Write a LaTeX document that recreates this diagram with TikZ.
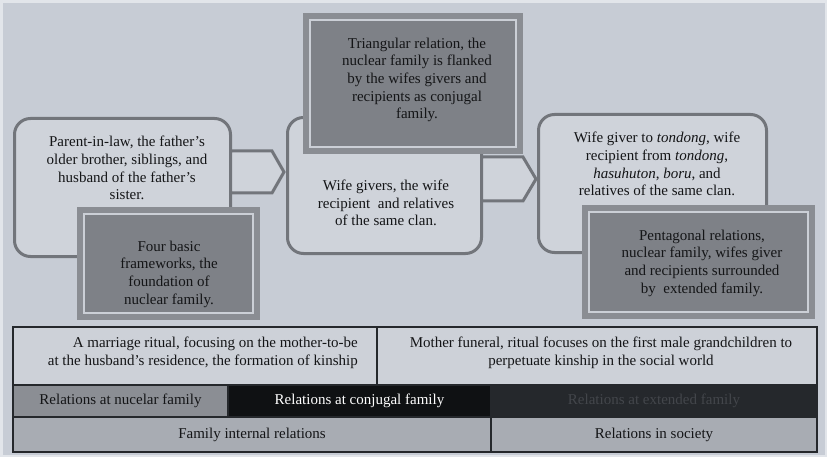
\documentclass[tikz,border=0pt]{standalone}
\usepackage{fontspec}
\setmainfont{Liberation Serif}
\newfontfamily\seriffont{Liberation Serif}
\usetikzlibrary{calc}
\definecolor{pagebg}{HTML}{C7CCD5}
\definecolor{pageedge}{HTML}{E2E5EA}
\definecolor{rfill}{HTML}{CFD3DA}
\definecolor{rborder}{HTML}{72757B}
\definecolor{dband}{HTML}{8A8D93}
\definecolor{dfill}{HTML}{7E8187}
\definecolor{dline}{HTML}{CBCFD6}
\definecolor{txtc}{HTML}{141517}
\definecolor{tborder}{HTML}{25282C}
\definecolor{rowA}{HTML}{CDD1D8}
\definecolor{rowBa}{HTML}{8B8E94}
\definecolor{rowBb}{HTML}{0F1113}
\definecolor{rowBc}{HTML}{25282C}
\definecolor{rowBctext}{HTML}{43464B}
\definecolor{rowC}{HTML}{A8ACB3}
\begin{document}
\begin{tikzpicture}[x=1pt,y=-1pt,
  txt/.style={font=\seriffont\fontsize{15}{17.7}\selectfont, align=center, text=txtc, inner sep=0pt},
  rbox/.style={draw=rborder, line width=3pt, fill=rfill, rounded corners=16pt, outer sep=0pt, inner sep=0pt},
  dbox/.style={draw=dband, line width=6pt, fill=dfill, outer sep=0pt, inner sep=0pt},
  dinner/.style={draw=dline, line width=1.8pt},
  chev/.style={draw=rborder, line width=3pt, fill=rfill, line join=miter},
  cell/.style={draw=tborder, line width=2pt, outer sep=0pt, inner sep=0pt, anchor=north west,
    font=\seriffont\fontsize{15}{17.7}\selectfont, text=txtc}]
\useasboundingbox (0,0) rectangle (827,457);
\fill[pageedge] (0,0) rectangle (827,457);
\fill[pagebg] (3,3) rectangle (825,455);

% rounded boxes
\node[rbox, minimum width=216, minimum height=138] (L) at (122.5,187.5) {};
\node[rbox, minimum width=194, minimum height=136] (M) at (384.5,185.5) {};
\node[rbox, minimum width=228, minimum height=138] (R) at (652.5,183.5) {};

% chevron connectors
\coordinate (c1a) at ([yshift=15.5pt]L.east);
\coordinate (c1b) at ([xshift=-3.5pt,yshift=13.5pt]M.west);
\draw[chev] let \p1=(c1a), \p2=(c1b) in
  (\x1,\y1+21pt) -- (\x2-12pt,\y1+21pt) -- (\x2,\y1) -- (\x2-12pt,\y1-21pt) -- (\x1,\y1-21pt) -- cycle;
\coordinate (c2a) at ([yshift=6.5pt]M.east);
\coordinate (c2b) at ([xshift=-2.5pt,yshift=4.5pt]R.west);
\draw[chev] let \p1=(c2a), \p2=(c2b) in
  (\x1,\y1+22pt) -- (\x2-13pt,\y1+22pt) -- (\x2,\y1) -- (\x2-13pt,\y1-22pt) -- (\x1,\y1-22pt) -- cycle;

% dark boxes
\node[dbox, minimum width=177, minimum height=107] (D1) at (168.5,263.5) {};
\node[dbox, minimum width=214, minimum height=135] (D2) at (413,83.5) {};
\node[dbox, minimum width=227, minimum height=108] (D3) at (698.5,262) {};
\foreach \d in {D1,D2,D3}
  \draw[dinner] ([shift={(4pt,-4pt)}]\d.north west) rectangle ([shift={(-4pt,4pt)}]\d.south east);

% texts
\node[txt] (tL) at (127,168) {Parent-in-law, the father’s\\older brother, siblings, and\\husband of the father’s\\sister.};
\node[txt] (tD1) at (169,274) {Four basic\\frameworks, the\\foundation of\\nuclear family.};
\node[txt] (tD2) at (417,80) {Triangular relation, the\\nuclear family is flanked\\by the wifes givers and\\recipients as conjugal\\family.};
\node[txt] (tM) at (386,203) {Wife givers, the wife\\recipient\ \ and relatives\\of the same clan.};
\node[txt] (tR) at (657,164) {Wife giver to \textit{tondong}, wife\\recipient from \textit{tondong},\\\textit{hasuhuton}, \textit{boru}, and\\relatives of the same clan.};
\node[txt] (tD3) at (702,263) {Pentagonal relations,\\nuclear family, wifes giver\\and recipients surrounded\\by\ \ extended family.};

% table
\node[cell, fill=rowA, minimum width=364, minimum height=58] (a1) at (13,327) {};
\node[cell, fill=rowA, minimum width=440, minimum height=58] (a2) at (377,327) {};
\node[cell, fill=rowBa, minimum width=215, minimum height=32] (b1) at (13,385) {Relations at nucelar family};
\node[cell, fill=rowBb, minimum width=263, minimum height=32, text=white] (b2) at (228,385) {Relations at conjugal family};
\node[cell, fill=rowBc, minimum width=326, minimum height=32, text=rowBctext] (b3) at (491,385) {Relations at extended family};
\node[cell, fill=rowC, minimum width=478, minimum height=35] (c1) at (13,417) {Family internal relations};
\node[cell, fill=rowC, minimum width=326, minimum height=35] (c2) at (491,417) {Relations in society};
\node[txt, align=right, anchor=east] (ta1) at (358,353) {A marriage ritual, focusing on the mother-to-be\\at the husband’s residence, the formation of kinship};
\node[txt] (ta2) at (601,353) {Mother funeral, ritual focuses on the first male grandchildren to\\perpetuate kinship in the social world};
\end{tikzpicture}
\end{document}
